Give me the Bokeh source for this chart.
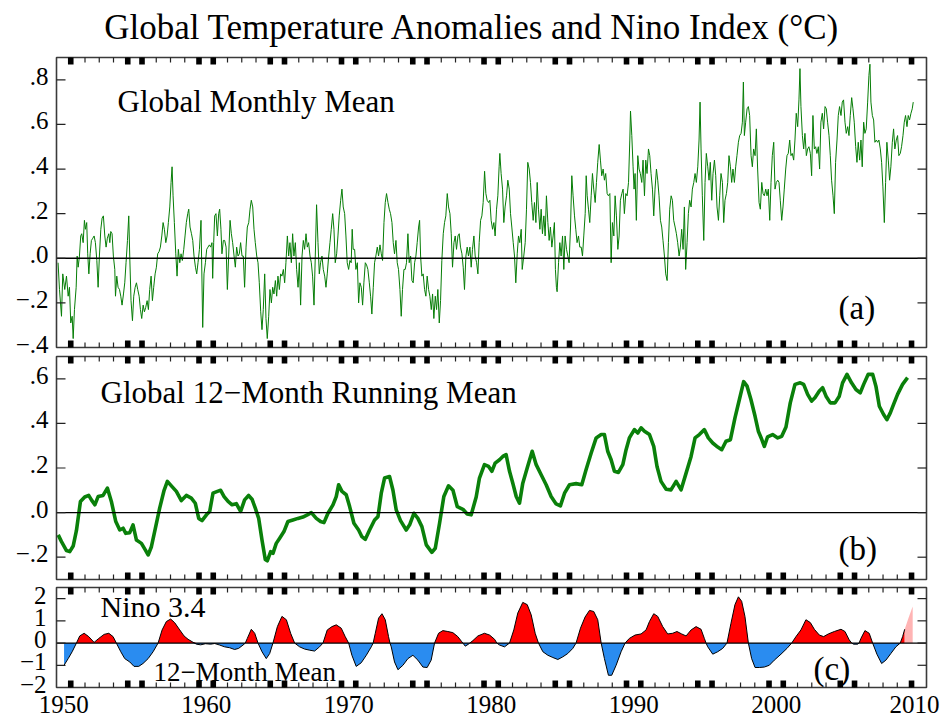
import numpy as np
from bokeh.plotting import figure
from bokeh.models import Range1d, LabelSet, Label, ColumnDataSource
from bokeh.embed import file_html
from bokeh.resources import INLINE
from bokeh.core.properties import value

# ------------------------------------------------------------------ data
title_text = "Global Temperature Anomalies and Nino Index (°C)"

# (a) global monthly mean anomaly (year, degC)
monthly_1950s = [(1950.11,-0.02),(1950.21,-0.14),(1950.35,-0.26),(1950.44,-0.07),(1950.58,-0.14),(1950.70,-0.08),(1950.82,-0.17),(1950.91,-0.13),(1951.00,-0.29),(1951.10,-0.26),(1951.17,-0.36),(1951.26,-0.23),(1951.38,-0.13),(1951.45,0.01),(1951.52,-0.04),(1951.61,0.01),(1951.70,0.10),(1951.77,0.11),(1951.87,0.07),(1951.96,0.17),(1952.03,0.13),(1952.12,0.16),(1952.19,0.02),(1952.27,-0.07),(1952.36,0.02),(1952.45,0.08),(1952.55,0.09),(1952.64,0.10),(1952.73,0.07),(1952.83,-0.01),(1952.92,-0.13),(1953.01,0.01),(1953.11,0.13),(1953.20,0.18),(1953.29,0.19),(1953.39,0.10),(1953.48,0.05),(1953.57,0.09),(1953.67,0.11),(1953.74,0.07),(1953.81,0.12),(1953.90,0.11),(1953.99,0.01),(1954.09,-0.05),(1954.14,-0.17),(1954.23,-0.08),(1954.32,-0.13),(1954.42,-0.14),(1954.51,-0.17),(1954.60,-0.21),(1954.70,-0.16),(1954.79,-0.11),(1954.88,-0.02),(1954.98,0.08),(1955.07,0.19),(1955.14,0.01),(1955.23,-0.19),(1955.33,-0.28),(1955.42,-0.17),(1955.52,-0.13),(1955.61,-0.11),(1955.70,-0.14),(1955.80,-0.17),(1955.89,-0.23),(1955.98,-0.27),(1956.08,-0.21),(1956.17,-0.24),(1956.26,-0.22),(1956.36,-0.19),(1956.45,-0.23),(1956.54,-0.14),(1956.64,-0.08),(1956.73,-0.19),(1956.82,-0.13),(1956.92,-0.07),(1957.01,-0.04),(1957.10,0.02),(1957.20,0.03),(1957.29,0.05),(1957.39,0.10),(1957.48,0.16),(1957.57,0.13),(1957.67,0.07),(1957.76,0.10),(1957.85,0.16),(1957.95,0.23),(1958.04,0.34),(1958.11,0.41),(1958.18,0.28),(1958.27,0.16),(1958.37,0.02),(1958.46,-0.08),(1958.55,0.04),(1958.65,-0.02),(1958.74,0.02),(1958.83,-0.01),(1958.93,0.04),(1959.02,0.10),(1959.11,0.16),(1959.21,0.20),(1959.28,0.22),(1959.37,0.14),(1959.47,0.11),(1959.56,0.08),(1959.65,0.01),(1959.75,-0.04),(1959.84,-0.07),(1959.93,-0.02)]
monthly_1960s = [(1960.03,0.04),(1960.14,0.17),(1960.26,-0.31),(1960.35,-0.07),(1960.45,-0.02),(1960.54,0.04),(1960.63,0.05),(1960.73,0.06),(1960.82,0.05),(1960.91,0.07),(1960.96,-0.09),(1961.03,0.07),(1961.10,0.19),(1961.19,0.20),(1961.29,0.10),(1961.38,0.20),(1961.45,0.22),(1961.54,0.13),(1961.61,0.02),(1961.71,0.08),(1961.80,0.08),(1961.90,0.05),(1961.99,-0.14),(1962.08,0.01),(1962.18,0.17),(1962.27,0.11),(1962.36,0.07),(1962.46,0.01),(1962.55,-0.04),(1962.64,0.05),(1962.74,0.01),(1962.83,0.02),(1962.92,0.07),(1963.02,0.01),(1963.11,0.01),(1963.20,-0.13),(1963.30,0.05),(1963.39,0.14),(1963.49,0.16),(1963.58,0.22),(1963.67,0.26),(1963.77,0.23),(1963.86,0.13),(1963.95,0.07),(1964.05,0.01),(1964.14,-0.02),(1964.23,-0.11),(1964.33,-0.24),(1964.42,-0.32),(1964.51,-0.23),(1964.61,-0.07),(1964.70,-0.27),(1964.79,-0.36),(1964.89,-0.26),(1964.98,-0.14),(1965.08,-0.20),(1965.17,-0.13),(1965.26,-0.16),(1965.36,-0.10),(1965.45,-0.17),(1965.54,-0.08),(1965.64,-0.14),(1965.73,-0.07),(1965.82,-0.08),(1965.92,-0.05),(1966.01,-0.11),(1966.10,-0.02),(1966.20,0.10),(1966.29,0.01),(1966.38,0.07),(1966.48,-0.02),(1966.57,0.11),(1966.66,0.01),(1966.76,0.07),(1966.85,-0.05),(1966.95,-0.13),(1967.04,-0.02),(1967.13,-0.21),(1967.23,0.01),(1967.32,0.08),(1967.41,0.04),(1967.51,0.11),(1967.60,0.05),(1967.69,0.07),(1967.79,0.01),(1967.88,-0.02),(1967.97,-0.08),(1968.07,-0.21),(1968.16,0.01),(1968.25,0.24),(1968.35,0.07),(1968.44,-0.07),(1968.53,-0.02),(1968.63,0.01),(1968.72,-0.05),(1968.82,-0.08),(1968.91,-0.13),(1969.00,-0.07),(1969.10,0.01),(1969.19,0.07),(1969.28,0.13),(1969.38,0.20),(1969.47,0.13),(1969.56,-0.02),(1969.66,0.02),(1969.75,0.10),(1969.84,0.19),(1969.94,0.26),(1970.03,0.31)]
monthly_1970s = [(1970.12,0.23),(1970.22,0.20),(1970.31,0.10),(1970.40,-0.02),(1970.50,-0.05),(1970.59,-0.01),(1970.68,-0.02),(1970.75,0.13),(1970.82,0.04),(1970.92,0.04),(1971.01,-0.05),(1971.11,-0.02),(1971.20,-0.20),(1971.29,-0.11),(1971.39,-0.13),(1971.48,-0.21),(1971.57,-0.11),(1971.67,-0.02),(1971.76,-0.03),(1971.85,-0.05),(1971.95,-0.11),(1972.04,-0.17),(1972.13,-0.25),(1972.23,-0.13),(1972.32,-0.02),(1972.41,0.01),(1972.51,0.05),(1972.60,0.01),(1972.70,0.06),(1972.79,0.02),(1972.88,-0.01),(1972.98,0.16),(1973.07,0.25),(1973.16,0.29),(1973.26,0.25),(1973.35,0.22),(1973.44,0.20),(1973.54,0.16),(1973.63,0.07),(1973.72,0.02),(1973.82,0.08),(1973.91,-0.02),(1974.00,-0.05),(1974.10,-0.14),(1974.19,-0.26),(1974.28,-0.14),(1974.38,-0.05),(1974.47,-0.05),(1974.56,-0.02),(1974.66,0.11),(1974.75,-0.02),(1974.85,0.01),(1974.94,-0.10),(1975.03,-0.11),(1975.13,-0.02),(1975.22,0.01),(1975.31,0.07),(1975.41,0.14),(1975.48,0.17),(1975.55,0.01),(1975.64,-0.08),(1975.73,-0.07),(1975.83,-0.14),(1975.92,-0.17),(1976.01,-0.08),(1976.11,-0.14),(1976.20,-0.17),(1976.30,-0.23),(1976.39,-0.16),(1976.48,-0.27),(1976.58,-0.17),(1976.67,-0.23),(1976.76,-0.14),(1976.86,-0.29),(1976.95,-0.19),(1977.04,-0.01),(1977.14,0.11),(1977.23,0.16),(1977.32,0.19),(1977.42,0.29),(1977.51,0.23),(1977.61,0.20),(1977.70,0.11),(1977.79,-0.04),(1977.89,0.07),(1977.98,0.10),(1978.07,0.04),(1978.17,0.10),(1978.26,0.11),(1978.35,0.05),(1978.45,0.02),(1978.54,-0.04),(1978.63,-0.14),(1978.73,0.01),(1978.82,0.05),(1978.91,0.01),(1979.01,0.05),(1979.10,-0.04),(1979.19,0.04),(1979.29,0.10),(1979.38,0.01),(1979.48,-0.02),(1979.57,-0.07),(1979.66,0.07),(1979.76,0.17),(1979.85,0.19),(1979.94,0.25),(1980.04,0.39),(1980.13,0.29)]
monthly_1980s = [(1980.22,0.26),(1980.32,0.25),(1980.41,0.26),(1980.50,0.17),(1980.60,0.13),(1980.69,0.16),(1980.78,0.10),(1980.88,0.22),(1980.97,0.28),(1981.06,0.41),(1981.11,0.47),(1981.20,0.38),(1981.30,0.31),(1981.39,0.16),(1981.48,0.23),(1981.58,0.28),(1981.67,0.35),(1981.77,0.31),(1981.86,0.20),(1981.95,0.14),(1982.05,0.07),(1982.14,0.01),(1982.23,-0.11),(1982.33,0.02),(1982.42,0.10),(1982.51,0.07),(1982.61,0.13),(1982.68,-0.05),(1982.79,0.01),(1982.89,0.07),(1982.98,0.22),(1983.07,0.43),(1983.17,0.40),(1983.26,0.34),(1983.35,0.25),(1983.45,0.17),(1983.54,0.25),(1983.64,0.16),(1983.73,0.34),(1983.82,0.22),(1983.92,0.13),(1984.01,0.22),(1984.10,0.11),(1984.20,0.19),(1984.29,0.10),(1984.38,0.28),(1984.48,0.16),(1984.57,0.08),(1984.66,0.14),(1984.76,0.05),(1984.85,0.10),(1984.94,0.16),(1985.01,-0.05),(1985.08,-0.13),(1985.13,-0.15),(1985.23,-0.02),(1985.32,0.07),(1985.41,0.01),(1985.51,0.10),(1985.60,-0.05),(1985.69,0.10),(1985.79,0.04),(1985.88,0.01),(1985.97,-0.02),(1986.07,0.14),(1986.16,0.37),(1986.25,0.28),(1986.35,0.19),(1986.44,0.13),(1986.53,0.07),(1986.63,0.10),(1986.72,0.05),(1986.82,0.05),(1986.91,0.01),(1987.00,0.10),(1987.10,0.20),(1987.17,0.37),(1987.24,0.28),(1987.33,0.22),(1987.42,0.16),(1987.52,0.28),(1987.61,0.38),(1987.70,0.31),(1987.80,0.25),(1987.89,0.34),(1987.98,0.43),(1988.08,0.51),(1988.17,0.44),(1988.26,0.37),(1988.36,0.40),(1988.45,0.35),(1988.54,0.38),(1988.64,0.29),(1988.73,0.28),(1988.83,0.29),(1988.92,-0.02),(1989.01,0.16),(1989.11,0.10),(1989.20,0.28),(1989.29,0.19),(1989.39,0.04),(1989.48,0.10),(1989.57,0.26),(1989.67,0.29),(1989.76,0.31),(1989.85,0.20),(1989.95,0.29),(1990.04,0.28),(1990.14,0.34),(1990.23,0.53),(1990.28,0.66),(1990.37,0.55),(1990.46,0.41),(1990.53,0.31)]
monthly_1990s = [(1990.60,0.38),(1990.69,0.17),(1990.74,0.31),(1990.79,0.46),(1990.88,0.40),(1990.97,0.38),(1991.07,0.34),(1991.16,0.44),(1991.26,0.28),(1991.35,0.44),(1991.44,0.38),(1991.54,0.49),(1991.63,0.46),(1991.72,0.38),(1991.82,0.31),(1991.91,0.19),(1992.00,0.31),(1992.10,0.40),(1992.19,0.35),(1992.28,0.28),(1992.38,0.17),(1992.47,0.14),(1992.56,0.08),(1992.66,0.01),(1992.75,-0.07),(1992.85,-0.10),(1992.94,0.07),(1993.03,0.22),(1993.13,0.28),(1993.22,0.26),(1993.31,0.17),(1993.41,0.14),(1993.50,0.11),(1993.59,0.07),(1993.69,0.01),(1993.78,0.05),(1993.87,0.13),(1993.97,0.04),(1994.06,0.23),(1994.15,-0.05),(1994.25,0.07),(1994.34,0.20),(1994.43,0.26),(1994.53,0.23),(1994.62,0.31),(1994.72,0.34),(1994.81,0.38),(1994.90,0.34),(1995.00,0.41),(1995.09,0.53),(1995.16,0.70),(1995.23,0.49),(1995.32,0.28),(1995.42,0.08),(1995.51,0.34),(1995.60,0.47),(1995.70,0.41),(1995.79,0.35),(1995.88,0.43),(1995.98,0.26),(1996.07,0.38),(1996.17,0.44),(1996.26,0.37),(1996.35,0.23),(1996.45,0.17),(1996.54,0.28),(1996.63,0.38),(1996.73,0.34),(1996.82,0.16),(1996.91,0.26),(1997.01,0.29),(1997.10,0.34),(1997.19,0.46),(1997.29,0.41),(1997.38,0.34),(1997.47,0.40),(1997.57,0.34),(1997.66,0.41),(1997.75,0.46),(1997.85,0.52),(1997.94,0.55),(1998.04,0.56),(1998.13,0.61),(1998.20,0.79),(1998.27,0.55),(1998.36,0.61),(1998.46,0.67),(1998.55,0.68),(1998.64,0.64),(1998.74,0.46),(1998.83,0.41),(1998.92,0.49),(1999.02,0.46),(1999.11,0.58),(1999.20,0.40),(1999.30,0.25),(1999.39,0.22),(1999.49,0.34),(1999.58,0.29),(1999.67,0.28),(1999.77,0.31),(1999.86,0.28),(1999.95,0.31),(2000.05,0.17),(2000.14,0.34),(2000.23,0.46),(2000.33,0.52),(2000.42,0.31),(2000.51,0.34),(2000.61,0.35)]
monthly_2000s = [(2000.70,0.34),(2000.79,0.26),(2000.89,0.17),(2000.98,0.23),(2001.07,0.31),(2001.17,0.40),(2001.26,0.46),(2001.35,0.47),(2001.45,0.53),(2001.54,0.46),(2001.63,0.47),(2001.73,0.44),(2001.82,0.53),(2001.91,0.65),(2002.01,0.59),(2002.10,0.71),(2002.17,0.85),(2002.24,0.68),(2002.34,0.55),(2002.43,0.49),(2002.52,0.56),(2002.62,0.46),(2002.71,0.49),(2002.80,0.50),(2002.90,0.47),(2002.99,0.37),(2003.08,0.64),(2003.18,0.49),(2003.27,0.50),(2003.36,0.47),(2003.46,0.50),(2003.55,0.40),(2003.64,0.61),(2003.74,0.65),(2003.83,0.58),(2003.93,0.68),(2004.02,0.67),(2004.11,0.61),(2004.21,0.55),(2004.30,0.46),(2004.39,0.35),(2004.49,0.28),(2004.58,0.20),(2004.67,0.43),(2004.77,0.53),(2004.86,0.64),(2004.95,0.68),(2005.05,0.64),(2005.14,0.70),(2005.23,0.71),(2005.33,0.61),(2005.42,0.56),(2005.52,0.59),(2005.61,0.55),(2005.70,0.64),(2005.80,0.72),(2005.89,0.67),(2005.98,0.61),(2006.08,0.50),(2006.17,0.43),(2006.26,0.52),(2006.36,0.44),(2006.45,0.53),(2006.54,0.41),(2006.64,0.61),(2006.73,0.56),(2006.82,0.58),(2006.92,0.70),(2007.01,0.82),(2007.08,0.87),(2007.15,0.70),(2007.25,0.64),(2007.34,0.62),(2007.43,0.52),(2007.53,0.53),(2007.62,0.52),(2007.71,0.53),(2007.81,0.49),(2007.90,0.43),(2007.99,0.32),(2008.09,0.16),(2008.18,0.34),(2008.27,0.52),(2008.37,0.44),(2008.46,0.35),(2008.55,0.41),(2008.65,0.52),(2008.74,0.58),(2008.83,0.49),(2008.93,0.53),(2009.02,0.55),(2009.11,0.46),(2009.21,0.47),(2009.30,0.50),(2009.40,0.55),(2009.49,0.61),(2009.58,0.64),(2009.68,0.59),(2009.77,0.64),(2009.86,0.62),(2009.96,0.65),(2010.05,0.67),(2010.12,0.70)]

# (b) global 12-month running mean (year, degC)
running_mean_early = [(1950.12,-0.10),(1950.35,-0.13),(1950.70,-0.17),(1950.93,-0.175),(1951.17,-0.15),(1951.40,-0.08),(1951.68,0.05),(1951.98,0.07),(1952.26,0.077),(1952.45,0.057),(1952.69,0.035),(1952.92,0.072),(1953.27,0.077),(1953.57,0.11),(1953.85,0.05),(1954.16,-0.04),(1954.44,-0.078),(1954.67,-0.07),(1954.86,-0.093),(1955.14,-0.09),(1955.37,-0.055),(1955.61,-0.123),(1955.96,-0.138),(1956.24,-0.168),(1956.43,-0.19),(1956.66,-0.153),(1956.94,-0.07),(1957.24,0.02),(1957.55,0.10),(1957.78,0.14),(1958.06,0.12),(1958.41,0.095),(1958.76,0.054),(1959.11,0.077),(1959.46,0.065),(1959.74,0.042),(1959.98,-0.026),(1960.21,-0.036),(1960.52,-0.01),(1960.75,0.005),(1960.98,0.087),(1961.29,0.095),(1961.52,0.10),(1961.76,0.072),(1962.04,0.05),(1962.32,0.035),(1962.62,0.04),(1962.92,0.005),(1963.20,0.057),(1963.48,0.077),(1963.72,0.06),(1963.95,0.02),(1964.19,-0.026),(1964.42,-0.123),(1964.65,-0.21),(1964.79,-0.216),(1965.03,-0.175),(1965.19,-0.183),(1965.42,-0.138),(1965.66,-0.115),(1965.96,-0.085),(1966.24,-0.04),(1966.59,-0.033),(1966.94,-0.026),(1967.29,-0.02),(1967.60,-0.01),(1967.88,0.0),(1968.23,-0.026),(1968.53,-0.04),(1968.77,-0.045),(1969.05,-0.003),(1969.40,0.035),(1969.63,0.072),(1969.80,0.125),(1970.03,0.095),(1970.33,0.08),(1970.57,0.027),(1970.87,-0.048),(1971.20,-0.078),(1971.43,-0.108),(1971.67,-0.12),(1971.97,-0.078),(1972.32,-0.033),(1972.56,-0.018),(1972.79,0.087),(1973.02,0.155),(1973.37,0.162),(1973.61,0.10),(1973.84,0.012),(1974.14,-0.036),(1974.54,-0.078),(1974.78,-0.055),(1975.08,-0.003),(1975.36,-0.026),(1975.64,-0.063),(1975.95,-0.145),(1976.34,-0.178),(1976.58,-0.16),(1976.88,-0.048),(1977.18,0.072),(1977.51,0.12),(1977.82,0.10),(1978.12,0.027),(1978.52,0.015),(1978.82,-0.006),(1979.10,-0.01)]
running_mean_late = [(1979.45,0.07),(1979.68,0.155),(1980.03,0.215),(1980.32,0.207),(1980.55,0.185),(1980.78,0.222),(1981.09,0.237),(1981.32,0.252),(1981.55,0.26),(1981.79,0.185),(1982.02,0.132),(1982.26,0.072),(1982.49,0.042),(1982.72,0.132),(1983.03,0.20),(1983.38,0.275),(1983.66,0.215),(1984.01,0.17),(1984.36,0.125),(1984.71,0.072),(1985.06,0.039),(1985.36,0.03),(1985.65,0.087),(1986.00,0.125),(1986.46,0.13),(1986.86,0.125),(1987.16,0.192),(1987.52,0.267),(1987.87,0.335),(1988.22,0.35),(1988.45,0.35),(1988.68,0.275),(1988.92,0.237),(1989.15,0.185),(1989.43,0.18),(1989.74,0.215),(1989.97,0.282),(1990.20,0.335),(1990.55,0.372),(1990.79,0.357),(1991.02,0.38),(1991.26,0.365),(1991.61,0.35),(1991.91,0.297),(1992.14,0.207),(1992.42,0.14),(1992.78,0.105),(1993.12,0.102),(1993.48,0.14),(1993.83,0.102),(1994.18,0.177),(1994.53,0.252),(1994.81,0.335),(1995.11,0.35),(1995.46,0.372),(1995.74,0.335),(1996.05,0.312),(1996.40,0.294),(1996.68,0.282),(1996.98,0.32),(1997.29,0.327),(1997.61,0.425),(1997.92,0.507),(1998.22,0.587),(1998.46,0.567),(1998.73,0.507),(1999.02,0.432),(1999.25,0.365),(1999.48,0.33),(1999.67,0.297),(1999.90,0.34),(2000.25,0.35),(2000.61,0.335),(2000.89,0.342),(2001.19,0.384),(2001.49,0.492),(2001.82,0.575),(2002.19,0.582),(2002.43,0.575),(2002.71,0.53),(2002.99,0.50),(2003.22,0.515),(2003.53,0.545),(2003.76,0.56),(2004.00,0.522),(2004.30,0.492),(2004.63,0.492),(2004.93,0.522),(2005.16,0.582),(2005.47,0.62),(2005.79,0.582),(2006.10,0.552),(2006.40,0.537),(2006.64,0.575),(2006.96,0.62),(2007.27,0.62),(2007.50,0.567),(2007.74,0.477),(2008.04,0.44),(2008.27,0.417),(2008.51,0.447),(2008.74,0.485),(2009.02,0.53),(2009.37,0.575),(2009.72,0.605)]

# (c) Nino 3.4 12-month mean (year, degC); the last months are incomplete (pink)
nino_mean = [(1950.53,-1.0),(1950.82,-0.7),(1951.10,-0.39),(1951.40,0.0),(1951.63,0.32),(1951.94,0.44),(1952.26,0.29),(1952.64,0.03),(1952.97,0.21),(1953.34,0.39),(1953.67,0.44),(1953.97,0.29),(1954.20,0.0),(1954.51,-0.39),(1954.79,-0.7),(1955.14,-0.85),(1955.44,-1.05),(1955.77,-1.05),(1956.07,-0.92),(1956.43,-0.7),(1956.78,-0.39),(1957.13,0.0),(1957.41,0.59),(1957.71,0.97),(1958.01,1.08),(1958.29,0.92),(1958.65,0.59),(1958.95,0.32),(1959.23,0.17),(1959.52,0.06),(1959.82,-0.05),(1960.12,-0.08),(1960.45,-0.03),(1960.82,-0.05),(1961.10,-0.02),(1961.45,-0.09),(1961.80,-0.17),(1962.15,-0.21),(1962.50,-0.29),(1962.78,-0.24),(1963.09,-0.09),(1963.25,0.0),(1963.39,0.21),(1963.67,0.62),(1963.91,0.44),(1964.14,0.0),(1964.42,-0.39),(1964.72,-0.7),(1964.96,-0.47),(1965.19,0.0),(1965.50,0.74),(1965.82,1.2),(1966.13,1.05),(1966.43,0.44),(1966.71,0.0),(1967.06,-0.17),(1967.41,-0.27),(1967.76,-0.32),(1968.11,-0.36),(1968.46,-0.17),(1968.70,0.0),(1969.00,0.59),(1969.33,0.74),(1969.63,0.82),(1969.98,0.67),(1970.26,0.29),(1970.50,0.0),(1970.73,-0.55),(1971.03,-1.05),(1971.38,-0.89),(1971.74,-0.55),(1972.09,-0.17),(1972.22,0.0),(1972.37,0.44),(1972.60,1.12),(1972.84,1.32),(1973.07,1.05),(1973.30,0.29),(1973.40,0.0),(1973.49,-0.17),(1973.72,-0.85),(1973.96,-1.2),(1974.31,-1.0),(1974.66,-0.7),(1975.01,-0.55),(1975.36,-0.77),(1975.71,-1.08),(1976.01,-1.1),(1976.29,-0.77),(1976.53,0.0),(1976.81,0.44),(1977.11,0.56),(1977.46,0.52),(1977.81,0.47),(1978.16,0.29),(1978.44,0.06),(1978.52,0.0),(1978.68,-0.14),(1978.91,-0.05),(1979.00,0.0),(1979.22,0.11),(1979.57,0.32),(1980.03,0.44),(1980.39,0.36),(1980.74,0.17),(1980.90,0.0),(1981.09,-0.09),(1981.44,-0.17),(1981.79,0.0),(1982.09,0.59),(1982.37,1.35),(1982.72,1.83),(1983.03,1.73),(1983.31,1.27),(1983.59,0.44),(1983.82,0.0),(1984.13,-0.39),(1984.48,-0.55),(1984.83,-0.65),(1985.18,-0.74),(1985.53,-0.62),(1985.88,-0.47),(1986.23,-0.24),(1986.46,0.0),(1986.77,0.67),(1987.09,1.17),(1987.40,1.47),(1987.70,1.42),(1987.98,1.05),(1988.22,0.0),(1988.45,-0.7),(1988.73,-1.45),(1988.96,-1.45),(1989.27,-1.0),(1989.62,-0.39),(1989.90,0.0),(1990.20,0.21),(1990.60,0.36),(1991.02,0.41),(1991.37,0.59),(1991.61,0.97),(1991.91,1.32),(1992.19,1.2),(1992.54,0.74),(1992.89,0.41),(1993.24,0.44),(1993.54,0.52),(1993.87,0.41),(1994.18,0.32),(1994.53,0.59),(1994.88,0.74),(1995.23,0.62),(1995.46,0.21),(1995.58,0.0),(1995.70,-0.17),(1996.05,-0.5),(1996.40,-0.39),(1996.75,-0.24),(1997.05,0.0),(1997.33,0.89),(1997.61,1.73),(1997.85,2.08),(1998.08,1.88),(1998.31,1.2),(1998.55,0.0),(1998.78,-0.7),(1999.02,-1.1),(1999.32,-1.1),(1999.67,-1.08),(2000.02,-1.0),(2000.37,-0.77),(2000.84,-0.5),(2001.26,-0.24),(2001.59,0.0),(2001.89,0.29),(2002.24,0.59),(2002.59,1.05),(2002.90,0.92),(2003.18,0.62),(2003.53,0.36),(2003.83,0.29),(2004.16,0.41),(2004.58,0.52),(2005.05,0.62),(2005.33,0.52),(2005.63,0.14),(2005.80,0.0),(2005.93,-0.05),(2006.22,-0.05),(2006.32,0.0),(2006.45,0.21),(2006.73,0.56),(2007.03,0.44),(2007.27,0.0),(2007.57,-0.5),(2007.90,-0.92),(2008.20,-0.77),(2008.55,-0.47),(2008.90,-0.17),(2009.21,0.0),(2009.38,0.30),(2009.52,0.62)]
nino_partial = [(2009.52,0.62),(2009.80,1.15),(2010.08,1.65)]

# axes / ticks
panel_a_ticks = [-0.4, -0.2, 0.0, 0.2, 0.4, 0.6, 0.8]
panel_a_labels = ["\u2212.4", "\u2212.2", ".0", ".2", ".4", ".6", ".8"]
panel_b_ticks = [-0.2, 0.0, 0.2, 0.4, 0.6]
panel_b_labels = ["\u2212.2", ".0", ".2", ".4", ".6"]
panel_c_ticks = [-2, -1, 0, 1, 2]
panel_c_labels = ["\u22122", "\u22121", "0", "1", "2"]
decade_label_pos = [1950.5, 1960.5, 1970.5, 1980.5, 1990.5, 2000.5, 2010.2]
decade_labels = ["1950", "1960", "1970", "1980", "1990", "2000", "2010"]
year_ticks = list(range(1951, 2011))
thick_tick_years = [1951, 1955, 1956, 1960, 1961, 1965, 1966, 1970, 1971, 1975, 1976,
                    1980, 1981, 1985, 1986, 1990, 1991, 1995, 1996, 2000, 2001, 2005, 2006, 2010]

# ------------------------------------------------------------------ layout (page px)
FONT = "Liberation Serif"
W, H = 948, 717                      # frame covers the whole canvas
BOX_L, BOX_R = 56, 926               # panel boxes, left/right edges
X0, X1 = 1950.0, 2011.05             # data at those edges
ppy = (BOX_R - BOX_L) / (X1 - X0)
x_start = X0 - BOX_L / ppy
x_end = X1 + (W - BOX_R) / ppy

# panel boxes: top px, bottom px, data lo, data hi
bands = {"a": (57, 347, -0.4, 0.9), "b": (356, 579, -0.3, 0.7), "default": (587, 687, -2.0, 2.5)}


def make_range(top, bottom, lo, hi):
    s = (hi - lo) / (bottom - top)
    return Range1d(lo - (H - bottom) * s, hi + top * s), s


rc, sc = make_range(*bands["default"])
ra, sa = make_range(*bands["a"])
rb, sb = make_range(*bands["b"])
scales = {"a": sa, "b": sb, "default": sc}

p = figure(width=W, height=H, x_range=Range1d(x_start, x_end), y_range=rc,
           output_backend="svg", toolbar_location=None,
           x_axis_location=None, y_axis_location=None,
           min_border=0, min_border_left=0, min_border_right=0,
           min_border_top=0, min_border_bottom=0)
p.extra_y_ranges = {"a": ra, "b": rb}
p.grid.visible = False
p.outline_line_color = None
p.background_fill_color = "white"
p.border_fill_color = "white"


def rkw(name):
    return {} if name == "default" else {"y_range_name": name}


def split(pairs):
    a = np.array(pairs, dtype=float)
    return a[:, 0], a[:, 1]


# ---- panel (a)
mt, mv = split(monthly_1950s + monthly_1960s + monthly_1970s + monthly_1980s + monthly_1990s + monthly_2000s)
p.line(mt, mv, line_color="#067d06", line_width=1.0, y_range_name="a")

# ---- panel (b)
rt, rv = split(running_mean_early + running_mean_late)
p.line(rt, rv, line_color="#0a800a", line_width=3.6, line_join="round", y_range_name="b")

# ---- panel (c)
nt, nv = split(nino_mean)
p.varea(x=nt, y1=0, y2=np.maximum(nv, 0), fill_color="#ff0000")
p.varea(x=nt, y1=0, y2=np.minimum(nv, 0), fill_color="#2a8cf0")
pt, pv = split(nino_partial)
p.varea(x=pt, y1=0, y2=pv, fill_color="#ffb4b4")
p.line(nt, nv, line_color="black", line_width=1.0)

# ---- frames, zero lines, ticks, tick labels
ticks_of = {"a": (panel_a_ticks, panel_a_labels, -8),
            "b": (panel_b_ticks, panel_b_labels, -8),
            "default": (panel_c_ticks, panel_c_labels, -10)}
yt = np.array(year_ticks, dtype=float)
tt = np.array(thick_tick_years, dtype=float)
for name, (top, bottom, lo, hi) in bands.items():
    s = scales[name]
    kw = rkw(name)
    p.segment(x0=[X0], y0=[0], x1=[X1], y1=[0], line_color="black", line_width=1.3, **kw)
    p.quad(left=[X0], right=[X1], bottom=[lo], top=[hi], fill_color=None,
           line_color="#3a3a3a", line_width=1.6, **kw)
    p.segment(x0=yt, x1=yt, y0=np.full(yt.size, hi), y1=np.full(yt.size, hi - 5 * s),
              line_color="#222222", line_width=1.2, **kw)
    p.segment(x0=yt, x1=yt, y0=np.full(yt.size, lo), y1=np.full(yt.size, lo + 5 * s),
              line_color="#222222", line_width=1.2, **kw)
    hw = 2.8 / ppy
    p.quad(left=tt - hw, right=tt + hw, top=np.full(tt.size, hi), bottom=np.full(tt.size, hi - 7 * s),
           fill_color="black", line_color=None, **kw)
    p.quad(left=tt - hw, right=tt + hw, bottom=np.full(tt.size, lo), top=np.full(tt.size, lo + 7 * s),
           fill_color="black", line_color=None, **kw)
    tv, tl, off = ticks_of[name]
    inner = np.array([t for t in tv if lo < t < hi], dtype=float)
    tl_len = 9 / ppy
    p.segment(x0=np.full(inner.size, X0), x1=np.full(inner.size, X0 + tl_len), y0=inner, y1=inner,
              line_color="#222222", line_width=1.2, **kw)
    p.segment(x0=np.full(inner.size, X1 - tl_len), x1=np.full(inner.size, X1), y0=inner, y1=inner,
              line_color="#222222", line_width=1.2, **kw)
    src = ColumnDataSource(dict(x=[X0] * len(tv), y=list(tv), text=list(tl)))
    p.add_layout(LabelSet(x="x", y="y", text="text", source=src, x_offset=off, y_offset=-5,
                          text_align="right", text_baseline="alphabetic",
                          text_font=value(FONT), text_font_size=value("25px"),
                          text_color="black", **kw))

# x tick labels under panel (c)
xsrc = ColumnDataSource(dict(x=decade_label_pos, y=[-3.15] * len(decade_label_pos), text=decade_labels))
p.add_layout(LabelSet(x="x", y="y", text="text", source=xsrc, text_align="center",
                      text_baseline="alphabetic", text_font=value(FONT),
                      text_font_size=value("25px"), text_color="black"))


# ---- texts
def add_text(txt, x, y, size, name, align="left"):
    p.add_layout(Label(x=x, y=y, text=txt, text_font=FONT, text_font_size=size,
                       text_align=align, text_baseline="alphabetic", text_color="black", **rkw(name)))


add_text(title_text, 1979.19, 1.035, "35px", "a", align="center")
add_text("Global Monthly Mean", 1954.28, 0.702, "31px", "a")
add_text("(a)", 2004.88, -0.221, "33px", "a")
add_text("Global 12\u2212Month Running Mean", 1953.09, 0.539, "31px", "b")
add_text("(b)", 2004.88, -0.161, "33px", "b")
add_text("Nino 3.4", 1953.09, 1.645, "30px", "default")
add_text("12\u2212Month Mean", 1956.81, -1.28, "27px", "default")
add_text("(c)", 2003.12, -1.145, "33px", "default")

open("out.html", "w").write(file_html(p, INLINE))
